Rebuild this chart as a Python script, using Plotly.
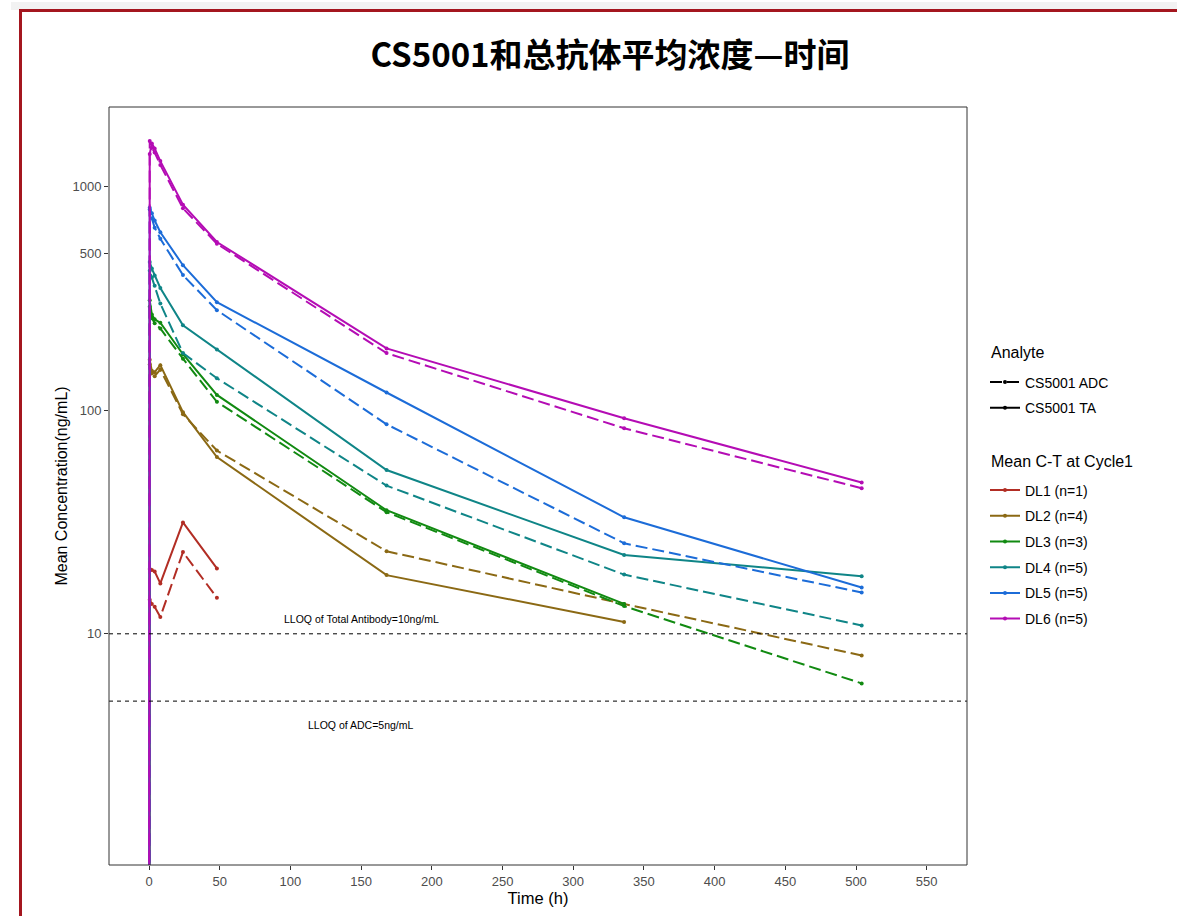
import math
import plotly.graph_objects as go

# ---------------- data ----------------
times = [0, 0.5, 2, 4, 8, 24, 48, 168, 336, 504]
groups = ["DL1 (n=1)", "DL2 (n=4)", "DL3 (n=3)", "DL4 (n=5)", "DL5 (n=5)", "DL6 (n=5)"]
colors = ["#B22D24", "#8B6914", "#118A11", "#0F8587", "#1C6CD8", "#B40CB4"]
analytes = ["CS5001 ADC", "CS5001 TA"]

# time-0 concentrations are below the plotted range (BLQ)
dl1_ta = [0.01, 19.5, 19.3, 19.0, 16.8, 31.5, 19.6, None, None, None]
dl1_adc = [0.01, 14.2, 13.6, 13.2, 11.9, 23.2, 14.5, None, None, None]
dl2_ta = [0.01, 168, 150, 148, 159, 98, 61.7, 18.3, 11.3, None]
dl2_adc = [0.01, 160, 146, 142, 152, 96, 66, 23.4, 13.6, 8.0]
dl3_ta = [0.01, 310, 268, 255, 246, 178, 117, 35.7, 13.6, None]
dl3_adc = [0.01, 290, 258, 245, 232, 170, 109, 35.0, 13.3, 6.0]
dl4_ta = [0.01, 460, 430, 400, 352, 240, 187, 54, 22.5, 18.1]
dl4_adc = [0.01, 420, 392, 360, 300, 180, 139, 46, 18.4, 10.9]
dl5_ta = [0.01, 805, 760, 705, 625, 445, 304, 120, 33.2, 16.1]
dl5_adc = [0.01, 790, 722, 655, 585, 402, 280, 86.5, 25.4, 15.3]
dl6_ta = [0.01, 1400, 1560, 1480, 1300, 830, 565, 189, 92, 47.5]
dl6_adc = [0.01, 1600, 1490, 1420, 1250, 800, 555, 180, 83, 44.8]

ta_series = [dl1_ta, dl2_ta, dl3_ta, dl4_ta, dl5_ta, dl6_ta]
adc_series = [dl1_adc, dl2_adc, dl3_adc, dl4_adc, dl5_adc, dl6_adc]

lloq_ta = 10
lloq_adc = 5
lloq_labels = ["LLOQ of Total Antibody=10ng/mL", "LLOQ of ADC=5ng/mL"]
lloq_label_x = [150, 150]
lloq_label_y = [11.7, 3.9]

x_ticks = list(range(0, 551, 50))
y_ticks = [10, 100, 500, 1000]

legend_titles = ["Analyte", "Mean C-T at Cycle1"]

# ---------------- layout helpers (pixel -> paper) ----------------
W, H = 1177, 916
L, R, T, B = 109, 967, 107, 865


def px(x):
    return (x - L) / (R - L)


def py(y):
    return (B - y) / (B - T)


DASH = "12px,5px"
fig = go.Figure()

for i, g in enumerate(groups):
    for vals, dash in ((adc_series[i], DASH), (ta_series[i], "solid")):
        fig.add_trace(go.Scatter(
            x=times, y=vals, mode="lines+markers",
            line=dict(color=colors[i], width=2, dash=dash),
            marker=dict(color=colors[i], size=4),
            showlegend=False, hoverinfo="skip"))

# legend 1: Analyte
for a, dash in zip(analytes, [DASH, "solid"]):
    fig.add_trace(go.Scatter(
        x=[None], y=[None], mode="lines+markers", name=a,
        line=dict(color="black", width=2, dash=dash),
        marker=dict(color="black", size=4),
        legend="legend", legendgroup=a))

# legend 2: dose levels
for i, g in enumerate(groups):
    fig.add_trace(go.Scatter(
        x=[None], y=[None], mode="lines+markers", name=g,
        line=dict(color=colors[i], width=2),
        marker=dict(color=colors[i], size=4),
        legend="legend2", legendgroup=g))

# LLOQ lines
for v in (lloq_ta, lloq_adc):
    fig.add_hline(y=v, line=dict(color="black", width=1, dash="4px,4px"))

for t, lx, ly in zip(lloq_labels, lloq_label_x, lloq_label_y):
    fig.add_annotation(x=lx, y=math.log10(ly), xref="x", yref="y", text=t, showarrow=False,
                       font=dict(size=10.5, color="black", family="Arial"))

# legend titles
for t, yy in zip(legend_titles, [352, 461]):
    fig.add_annotation(x=px(989), y=py(yy), xref="paper", yref="paper", text=t,
                       showarrow=False, xanchor="left", yanchor="middle",
                       font=dict(size=16, color="black", family="Arial"))

# frame decoration (red border with shadow)
shapes = [
    dict(type="rect", xref="paper", yref="paper", x0=px(11), x1=px(20), y0=py(10), y1=py(H + 5),
         fillcolor="rgba(0,0,0,0.08)", line=dict(width=0), layer="below"),
    dict(type="rect", xref="paper", yref="paper", x0=px(15), x1=px(20), y0=py(10), y1=py(H + 5),
         fillcolor="rgba(0,0,0,0.15)", line=dict(width=0), layer="below"),
    dict(type="rect", xref="paper", yref="paper", x0=px(11), x1=px(W + 5), y0=py(2), y1=py(10),
         fillcolor="rgba(0,0,0,0.05)", line=dict(width=0), layer="below"),
    dict(type="rect", xref="paper", yref="paper", x0=px(20.5), x1=px(W + 10), y0=py(10.5), y1=py(H + 10),
         fillcolor="rgba(0,0,0,0)", line=dict(color="#A4161F", width=3), layer="below"),
    dict(type="rect", xref="paper", yref="paper", x0=0, x1=1, y0=0, y1=1,
         line=dict(color="#333333", width=1), layer="above"),
]

fig.update_layout(
    width=W, height=H,
    margin=dict(l=L, r=W - R, t=T, b=H - B),
    paper_bgcolor="white", plot_bgcolor="white",
    font=dict(family="Arial", color="black"),
    title=dict(text="<b>CS5001和总抗体平均浓度—时间</b>", x=610 / W, xref="container",
               xanchor="center", y=1 - 55 / H, yref="container", yanchor="middle",
               font=dict(family="Noto Sans CJK SC", size=33, color="black")),
    xaxis=dict(range=[-28.3, 578.5], tickvals=x_ticks, showgrid=False, zeroline=False,
               ticks="outside", ticklen=4, tickcolor="#333333",
               tickfont=dict(size=13, color="#4D4D4D"),
               title=dict(text="Time (h)", font=dict(size=16.5, color="black"), standoff=4)),
    yaxis=dict(type="log", range=[-0.034, 3.356], tickvals=y_ticks, ticktext=[str(v) for v in y_ticks],
               showgrid=False, zeroline=False, ticks="outside", ticklen=4, tickcolor="#333333",
               tickfont=dict(size=13, color="#4D4D4D"),
               title=dict(text="Mean Concentration(ng/mL)", font=dict(size=16, color="black"), standoff=0)),
    shapes=shapes,
    legend=dict(x=px(985), y=py(366.5), xanchor="left", yanchor="top",
                font=dict(size=14), traceorder="grouped", tracegroupgap=4.5,
                bgcolor="rgba(0,0,0,0)"),
    legend2=dict(x=px(985), y=py(474.5), xanchor="left", yanchor="top",
                 font=dict(size=14), traceorder="grouped", tracegroupgap=4.5,
                 bgcolor="rgba(0,0,0,0)"),
)

fig.write_html("out.html")
